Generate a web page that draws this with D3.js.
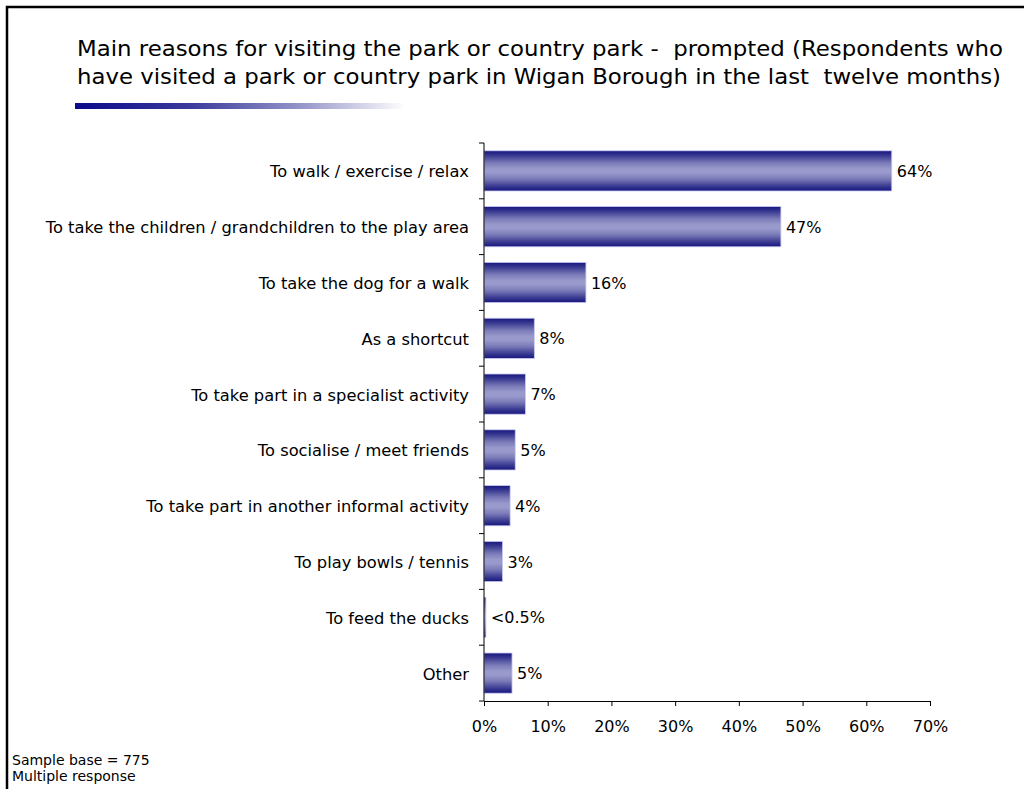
<!DOCTYPE html>
<html><head><meta charset="utf-8">
<script src="https://cdn.jsdelivr.net/npm/d3@7"></script>
<style>html,body{margin:0;padding:0;background:#fff;}svg{display:block;}</style>
</head><body><svg id="c" width="1024" height="789"></svg>
<script>
const categories = ["To walk / exercise / relax","To take the children / grandchildren to the play area","To take the dog for a walk","As a shortcut","To take part in a specialist activity ","To socialise / meet friends","To take part in another informal activity","To play bowls / tennis","To feed the ducks","Other"];
const values = [64, 46.6, 16, 7.9, 6.5, 4.9, 4.1, 2.9, 0.3, 4.4];
const valueLabels = ["64%","47%","16%","8%","7%","5%","4%","3%","<0.5%","5%"];
const xTicks = [0,10,20,30,40,50,60,70];
const titleLines = ["Main reasons for visiting the park or country park -  prompted (Respondents who","have visited a park or country park in Wigan Borough in the last  twelve months)"];
const notes = ["Sample base = 775","Multiple response"];

const svg = d3.select("#c");
const font = "Verdana, 'DejaVu Sans', sans-serif";
const defs = svg.append("defs");
const g1 = defs.append("linearGradient").attr("id","barG").attr("x1",0).attr("y1",0).attr("x2",0).attr("y2",1);
[[0,"#16167e"],[0.12,"#3a3a92"],[0.3,"#7a7ab8"],[0.45,"#9999cc"],[0.55,"#9999cc"],[0.7,"#7a7ab8"],[0.88,"#3a3a92"],[1,"#16167e"]].forEach(s=>g1.append("stop").attr("offset",s[0]).attr("stop-color",s[1]));
const g2 = defs.append("linearGradient").attr("id","lineG").attr("x1",0).attr("y1",0).attr("x2",1).attr("y2",0);
[[0,"#0a0a8c"],[0.35,"#3a3a9c"],[0.7,"#9a9acc"],[1,"#ffffff"]].forEach(s=>g2.append("stop").attr("offset",s[0]).attr("stop-color",s[1]));

// frame
svg.append("path").attr("d","M7,789 L7,7 L1024,7").attr("fill","none").attr("stroke","#000").attr("stroke-width",2.5);

// title
titleLines.forEach((t,i)=>{
  svg.append("text").attr("x",77).attr("y",56+i*28).attr("font-family","'DejaVu Sans Condensed', 'DejaVu Sans', sans-serif").attr("font-size",22)
    .style("white-space","pre")
    .attr("textLength", i===0?926:924).attr("lengthAdjust","spacingAndGlyphs").attr("fill","#000").text(t);
});
svg.append("rect").attr("x",75).attr("y",103).attr("width",330).attr("height",6).attr("fill","url(#lineG)");

const x = d3.scaleLinear().domain([0,70]).range([484,930]);
const y = d3.scaleBand().domain(categories).range([143,701]).paddingInner(0.28).paddingOuter(0.14);

// bars
svg.append("g").selectAll("rect").data(values).join("rect")
  .attr("x",x(0)).attr("y",(d,i)=>y(categories[i])).attr("width",d=>x(d)-x(0)).attr("height",y.bandwidth())
  .attr("fill","url(#barG)").attr("stroke","#c8c8f0").attr("stroke-width",0.8);

// value labels
svg.append("g").selectAll("text").data(values).join("text")
  .attr("x",d=>x(d)+5).attr("y",(d,i)=>y(categories[i])+y.bandwidth()/2+6)
  .attr("font-family",font).attr("font-size",16).attr("fill","#000").text((d,i)=>valueLabels[i]);

// y axis
const yAxis = d3.axisLeft(y).tickSize(0).tickPadding(15);
const ya = svg.append("g").attr("transform","translate(484,0)").call(yAxis);
ya.select(".domain").remove();
ya.selectAll("text").attr("font-family",font).attr("font-size",16.3).attr("fill","#000").attr("dy","0.4em");
svg.append("line").attr("x1",484).attr("x2",484).attr("y1",143).attr("y2",701).attr("stroke","#000").attr("stroke-width",1);
const step = (701-143)/categories.length;
svg.append("g").selectAll("line").data(d3.range(categories.length+1)).join("line")
  .attr("x1",479).attr("x2",484).attr("y1",i=>143+i*step).attr("y2",i=>143+i*step).attr("stroke","#000");

// x axis
const xAxis = d3.axisBottom(x).tickValues(xTicks).tickFormat(d=>d+"%").tickSizeInner(5).tickSizeOuter(0);
const xa = svg.append("g").attr("transform","translate(0,701)").call(xAxis);
xa.select(".domain").attr("stroke","#000");
xa.selectAll("text").attr("font-family",font).attr("font-size",16).attr("fill","#000").attr("y",31).attr("dy",0);

// notes
notes.forEach((t,i)=>svg.append("text").attr("x",12).attr("y",765+i*16).attr("font-family",font).attr("font-size",14).attr("fill","#000").text(t));
</script></body></html>
